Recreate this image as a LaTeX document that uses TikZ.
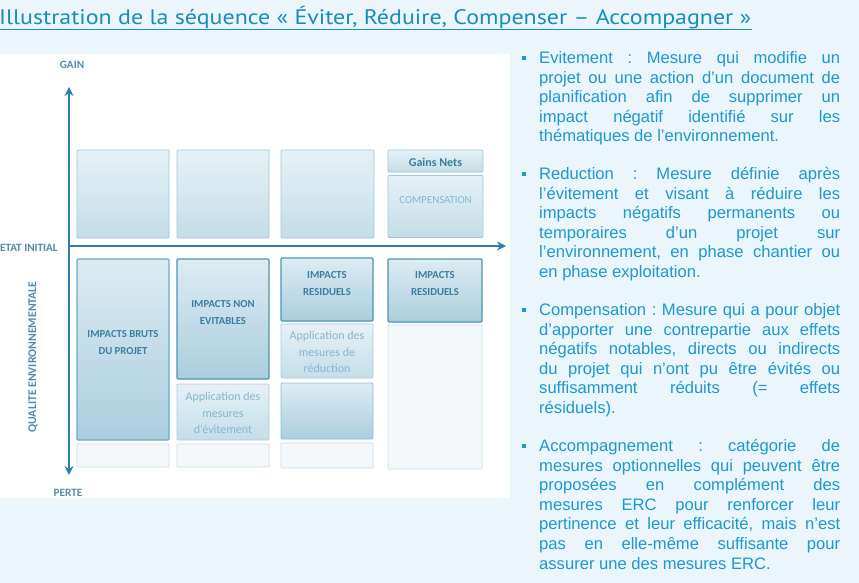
\documentclass[tikz,border=0pt]{standalone}
\usepackage{fontspec}
\setmainfont{Liberation Sans}
\newfontfamily\carl{Carlito}
\newfontfamily\ptsans{PT Sans}
\usetikzlibrary{arrows.meta}
\hyphenpenalty=10000
\exhyphenpenalty=10000
\tolerance=9999
\frenchspacing
\definecolor{bgblue}{HTML}{EAF6FC}
\definecolor{txtblue}{HTML}{1E98CE}
\definecolor{titleblue}{HTML}{1A8CBC}
\definecolor{axiscol}{HTML}{2F80A8}
\definecolor{lblcol}{HTML}{4E8DB0}
\definecolor{boxtxt}{HTML}{3C7EA0}
\definecolor{apptxt}{HTML}{86B6CB}
\definecolor{midtop}{HTML}{E6F1F6}
\definecolor{midbot}{HTML}{C3DDE8}
\definecolor{midbrd}{HTML}{9EC9DA}
\definecolor{strtop}{HTML}{DCECF3}
\definecolor{strbot}{HTML}{AACEDE}
\definecolor{strbrd}{HTML}{4E94B3}
\definecolor{brubrd}{HTML}{6EAAC4}
\definecolor{apptop}{HTML}{E6F1F6}
\definecolor{appbot}{HTML}{C4DEE9}
\definecolor{appbrd}{HTML}{A6CEDD}
\definecolor{lightfill}{HTML}{F4F8FB}
\definecolor{lightbrd}{HTML}{C8DEE8}
\tikzset{
  x=1pt, y=-1pt,
  bx/.style={rectangle, inner sep=0pt, rounded corners=1pt},
  midbox/.style={bx, draw=midbrd, line width=0.9pt, top color=midtop, bottom color=midbot},
  brutbox/.style={bx, draw=brubrd, line width=1.1pt, top color=strtop, bottom color=strbot},
  strbox/.style={bx, draw=strbrd, line width=1.3pt, top color=strtop, bottom color=strbot},
  appbox/.style={bx, draw=appbrd, line width=0.9pt, top color=apptop, bottom color=appbot},
  lightbox/.style={bx, draw=lightbrd, line width=0.9pt, fill=lightfill},
  boxlbl/.style={inner sep=0pt, align=center, text=boxtxt, font=\carl\bfseries\fontsize{10.7}{17}\selectfont},
  applbl/.style={inner sep=0pt, align=center, text=apptxt, font=\carl\fontsize{12}{16.5}\selectfont},
  axlbl/.style={inner sep=0pt, text=lblcol, font=\carl\bfseries\fontsize{11.2}{12}\selectfont},
  axisline/.style={draw=axiscol, line width=2.2pt, -{Stealth[length=9pt,width=9pt]}},
  para/.style={anchor=base west, inner sep=0pt, text width=301pt, align=justify, text=txtblue,
    font=\fontsize{16.6}{19.6}\selectfont\frenchspacing},
  bullet/.style={rectangle, inner sep=0pt, minimum size=4.5pt, fill=txtblue},
}
\begin{document}
\begin{tikzpicture}
\fill[bgblue] (0,0) rectangle (859,583);
\useasboundingbox (0,0) rectangle (859,583);
% title
\node[anchor=base west, inner sep=0pt, text=titleblue] (title) at (-1,25)
  {\resizebox{752pt}{\height}{\ptsans\fontsize{21}{24}\selectfont Illustration de la séquence « Éviter, Réduire, Compenser – Accompagner »}};
\draw[titleblue, line width=1.2pt] (0,29.5) -- (752,29.5);
% white panel
\fill[white] (0,54) rectangle (510,498);
% top row
\node[midbox, minimum width=92pt, minimum height=88pt] (t1) at (123,194) {};
\node[midbox, minimum width=92pt, minimum height=88pt] (t2) at (223,194) {};
\node[midbox, minimum width=93pt, minimum height=88pt] (t3) at (327.5,194) {};
\node[midbox, minimum width=95pt, minimum height=22pt] (gn) at (435.5,161) {};
\node[midbox, minimum width=95pt, minimum height=62pt] (cp) at (435.5,206.5) {};
\node[boxlbl, font=\carl\bfseries\fontsize{12}{14}\selectfont] (gnl) at (435.5,162) {Gains Nets};
\node[applbl, font=\carl\fontsize{10.8}{13}\selectfont] (cpl) at (435.5,200) {COMPENSATION};
% bottom row column 1
\node[brutbox, minimum width=92pt, minimum height=181pt] (b1) at (123,349.5) {};
\node[lightbox, minimum width=92pt, minimum height=23pt] (b1l) at (123,455.5) {};
\node[boxlbl] (b1t) at (123,343) {IMPACTS BRUTS\\DU PROJET};
% column 2
\node[strbox, minimum width=92pt, minimum height=120pt] (b2) at (223,319) {};
\node[appbox, minimum width=92pt, minimum height=56pt] (b2a) at (223,412) {};
\node[lightbox, minimum width=92pt, minimum height=23pt] (b2l) at (223,455.5) {};
\node[boxlbl] (b2t) at (223,313) {IMPACTS NON\\EVITABLES};
\node[applbl] (b2at) at (223,413) {Application des\\mesures\\d’évitement};
% column 3
\node[strbox, minimum width=92pt, minimum height=63pt] (b3) at (327,289.5) {};
\node[appbox, minimum width=92pt, minimum height=54pt] (b3a) at (327,351) {};
\node[brutbox, line width=0.9pt, draw=midbrd!80!strbrd, minimum width=92pt, minimum height=56pt] (b3b) at (327,411) {};
\node[lightbox, minimum width=92pt, minimum height=25pt] (b3l) at (327,455.5) {};
\node[boxlbl] (b3t) at (327,283.5) {IMPACTS\\RESIDUELS};
\node[applbl] (b3at) at (327,352) {Application des\\mesures de\\réduction};
% column 4
\node[strbox, minimum width=94pt, minimum height=63pt] (b4) at (435,290.5) {};
\node[lightbox, minimum width=94pt, minimum height=144pt] (b4l) at (435,397) {};
\node[boxlbl] (b4t) at (435,283.5) {IMPACTS\\RESIDUELS};
% axes
\coordinate (ytop) at (69,87);
\coordinate (ybot) at (69,475);
\coordinate (orig) at (69,246);
\coordinate (xend) at (506,246);
\draw[axisline] (orig) -- (ytop);
\draw[axisline] (orig) -- (ybot);
\draw[axisline] (orig) -- (xend);
\node[axlbl] (gain) at (72,65) {GAIN};
\node[axlbl] (perte) at (68,493) {PERTE};
\node[axlbl, anchor=west] (etat) at (0,248) {ETAT INITIAL};
\node[axlbl, rotate=90, font=\carl\bfseries\fontsize{11.8}{12}\selectfont] (qual) at (33,357) {QUALITE ENVIRONNEMENTALE};
% right text
\node[bullet] (bu1) at (524,58) {};
\node[para] (p1) at (539,63.5) {Evitement : Mesure qui modifie un\linebreak projet ou une action d’un document de\linebreak planification afin de supprimer un\linebreak impact négatif identifié sur les\linebreak thématiques de l’environnement.};
\node[bullet] (bu2) at (524,174) {};
\node[para] (p2) at (539,179.5) {Reduction : Mesure définie après\linebreak l’évitement et visant à réduire les\linebreak impacts négatifs permanents ou\linebreak temporaires d’un projet sur\linebreak l’environnement, en phase chantier ou\linebreak en phase exploitation.};
\node[bullet] (bu3) at (524,310) {};
\node[para] (p3) at (539,315.5) {Compensation : Mesure qui a pour objet\linebreak d’apporter une contrepartie aux effets\linebreak négatifs notables, directs ou indirects\linebreak du projet qui n’ont pu être évités ou\linebreak suffisamment réduits (= effets\linebreak résiduels).};
\node[bullet] (bu4) at (524,446) {};
\node[para] (p4) at (539,451.5) {Accompagnement : catégorie de\linebreak mesures optionnelles qui peuvent être\linebreak proposées en complément des\linebreak mesures ERC pour renforcer leur\linebreak pertinence et leur efficacité, mais n’est\linebreak pas en elle-même suffisante pour\linebreak assurer une des mesures ERC.};
\end{tikzpicture}
\end{document}
